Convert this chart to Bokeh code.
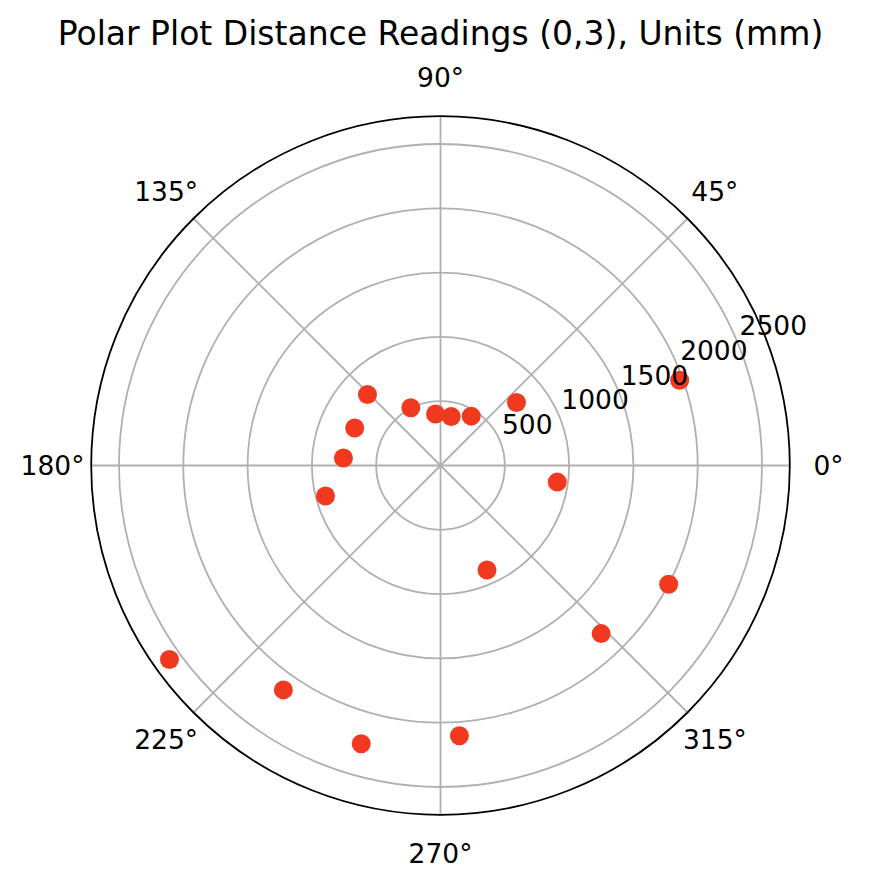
import numpy as np
from bokeh.plotting import figure
from bokeh.models import ColumnDataSource, Range1d
from bokeh.core.properties import value
from bokeh.embed import file_html
from bokeh.resources import INLINE

# Readings: angle in degrees, distance in mm
angles_deg = [19.6, 39.7, 58.1, 77.7, 95.5, 117.2, 135.8, 156.4, 175.6,
              194.9, 215.6, 235.0, 254.1, 274.0, 294.0, 313.7, 332.5, 351.9]
distances_mm = [1974, 768, 452, 390, 402, 505, 792, 728, 757,
                925, 2592, 2130, 2250, 2107, 889, 1808, 2000, 917]

ring_ticks = [500, 1000, 1500, 2000, 2500]
ring_labels = ["500", "1000", "1500", "2000", "2500"]
angle_ticks = [0, 45, 90, 135, 180, 225, 270, 315]
angle_labels = ["0°", "45°", "90°", "135°", "180°", "225°", "270°", "315°"]
r_max = 2716

W, H = 860, 876
cx, cy = 440, 465          # centre of the polar area on the canvas
R_PX = 349.3               # outer circle radius in pixels
k = r_max / R_PX           # mm per pixel

p = figure(width=W, height=H, output_backend="svg", toolbar_location=None,
           x_range=Range1d(-cx * k, (W - cx) * k),
           y_range=Range1d(-(H - cy) * k, cy * k),
           x_axis_location=None, y_axis_location=None, min_border=0)
p.grid.visible = False
p.outline_line_color = None
p.background_fill_color = "white"

FONT = value("DejaVu Sans")
GRID = "#b0b0b0"
TXT = "#000000"

# radial rings
p.circle(x=[0] * len(ring_ticks), y=[0] * len(ring_ticks), radius=ring_ticks,
         fill_color=None, line_color=GRID, line_width=1.8)

# spokes
th = np.radians(angle_ticks)
p.segment(x0=0, y0=0, x1=r_max * np.cos(th), y1=r_max * np.sin(th),
          line_color=GRID, line_width=1.8)

# outer spine
p.circle(x=[0], y=[0], radius=[r_max], fill_color=None,
         line_color="black", line_width=1.8)

# data points
a = np.radians(angles_deg)
src = ColumnDataSource(dict(x=np.array(distances_mm) * np.cos(a),
                            y=np.array(distances_mm) * np.sin(a)))
p.scatter("x", "y", source=src, size=19, fill_color="#f0391f",
          line_color=None)

# angle labels
lab_r = r_max * 388 / R_PX
p.text(x=lab_r * np.cos(th), y=lab_r * np.sin(th), text=angle_labels,
       text_font=FONT, text_font_size="26.5px", text_color=TXT,
       text_align="center", text_baseline="middle")

# ring labels at 22.5 degrees
rl = np.radians(22.5)
p.text(x=np.array(ring_ticks) * np.cos(rl), y=np.array(ring_ticks) * np.sin(rl),
       text=ring_labels, text_font=FONT, text_font_size="26.5px",
       text_color=TXT, text_align="left", text_baseline="middle",
       x_offset=2, y_offset=-17)

# title
p.text(x=[0], y=[(cy - 33) * k], text=["Polar Plot Distance Readings (0,3), Units (mm)"],
       text_font=FONT, text_font_size="33px", text_color=TXT,
       text_align="center", text_baseline="middle")

open("out.html", "w").write(file_html(p, INLINE))
